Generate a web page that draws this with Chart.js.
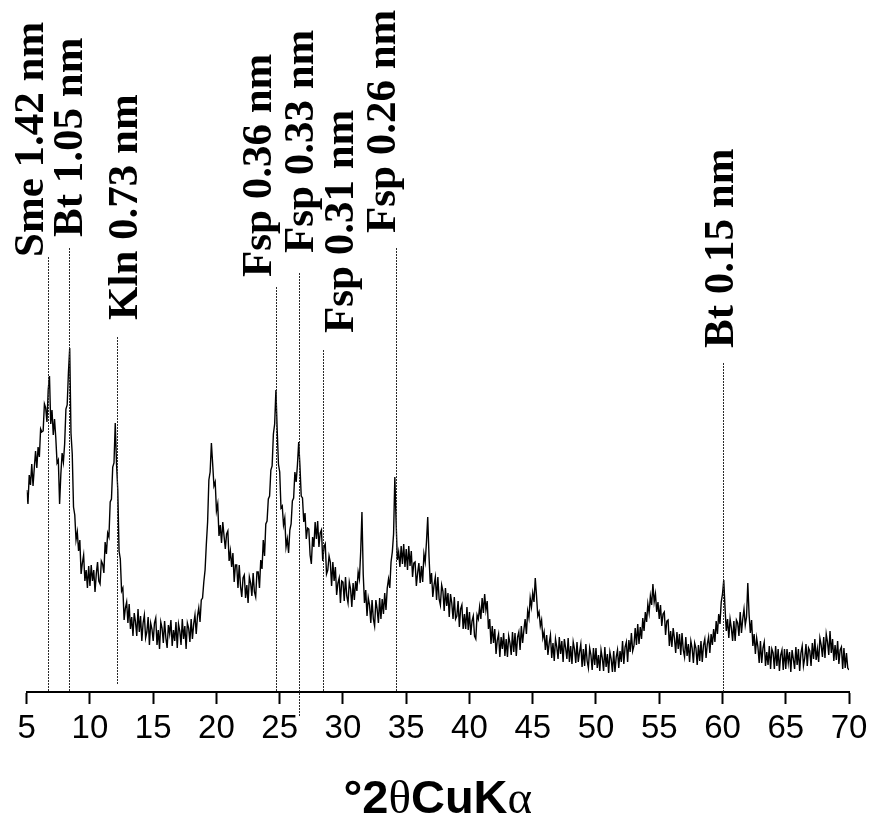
<!DOCTYPE html>
<html>
<head>
<meta charset="utf-8">
<title>XRD pattern</title>
<script src="https://cdn.jsdelivr.net/npm/chart.js@4.4.1/dist/chart.umd.min.js"></script>
<style>
  html, body { margin: 0; padding: 0; background: #fff; }
  #wrap { width: 876px; height: 826px; }
</style>
</head>
<body>
<div id="wrap"><canvas id="xrd" width="876" height="826"></canvas></div>
<script>
// Scan grid: readings every 0.1 °2θ starting at 5 °2θ
const scanStart = 5.0;
const scanStep = 0.1;

// Intensity (a.u.) in 5° blocks
const counts05 = [202,188,217,207,228,206,224,241,224,245, 235,263,260,261,288,284,270,302,316,268,
  282,257,273,254,229,232,188,218,239,230, 248,283,287,320,344,259,238,185,177,152,
  160,141,152,118,129,137,111,122,104,126];
const counts10 = [106,127,111,122,100,118,130,111,108,131, 128,119,150,138,159,155,190,193,225,229,
  269,228,202,141,133,101,104,72,84,90, 69,88,63,75,56,79,70,56,83,60,
  76,51,69,77,54,60,75,47,69,63];
const counts15 = [51,69,74,47,62,43,70,64,49,71, 54,44,67,58,72,46,62,51,70,44,
  68,61,47,73,53,66,43,69,64,50, 73,53,68,77,58,76,84,70,92,94,
  110,122,148,170,212,220,249,228,206,210];
const counts20 = [181,188,156,167,149,170,156,143,158,161, 131,141,125,139,110,127,127,104,127,106,
  95,114,117,94,107,89,115,109,96,119, 100,95,120,120,104,132,123,152,136,168,
  171,193,196,222,226,258,268,302,262,228];
const counts25 = [220,184,186,167,174,145,153,139,162,168, 191,194,220,210,227,250,226,196,194,170,
  179,153,164,163,137,128,155,145,170,153, 171,145,159,162,131,145,148,118,122,136,
  130,106,130,111,125,97,109,114,89,111];
const counts30 = [110,91,115,96,89,110,103,85,109,92, 111,101,120,113,140,180,118,89,102,76,
  94,87,69,92,73,66,92,83,69,94, 73,93,78,99,82,104,113,104,130,140,
  158,215,170,132,140,125,146,128,148,125];
const counts35 = [143,122,146,126,141,115,129,130,106,119, 129,109,126,110,138,130,150,175,136,108,
  119,95,107,115,92,115,93,87,107,101, 81,104,86,99,75,98,89,73,95,73,
  76,91,65,83,87,63,78,63,85,62];
const counts40 = [80,57,71,76,56,53,77,73,85,73, 94,79,98,82,91,63,73,48,66,49,
  63,38,52,58,35,55,43,59,36,53, 35,56,49,37,60,40,59,36,55,60,
  42,66,49,62,73,58,81,74,94,85];
const counts45 = [99,90,114,96,76,80,66,72,54,60, 42,57,37,49,57,34,49,31,53,45,
  33,55,38,51,30,53,44,33,54,30, 46,28,50,43,29,50,30,40,48,25,
  43,26,48,31,24,44,37,22,44,27];
const counts50 = [44,24,37,21,42,34,21,45,25,38, 19,40,33,20,41,20,35,42,24,41,
  30,51,28,45,50,30,52,40,59,41, 46,64,47,68,48,65,53,74,61,80,
  70,88,79,96,87,108,90,98,80,90];
const counts55 = [73,87,66,78,80,57,71,72,46,61, 45,64,54,39,60,43,58,37,59,42,
  35,55,36,48,30,51,44,29,49,44, 27,47,31,51,30,47,53,34,48,55,
  39,58,47,63,50,71,58,78,68,90];
const counts60 = [98,112,84,61,73,54,73,64,51,71, 51,72,69,56,80,59,73,83,67,75,
  109,78,59,72,46,58,38,54,45,29, 51,29,44,50,26,40,27,46,23,43,
  39,23,46,26,43,21,37,42,22,43];
const counts65 = [23,43,29,40,20,42,33,23,45,27, 43,21,39,46,26,34,48,26,44,41,
  26,49,33,53,32,43,30,54,47,35, 55,34,58,50,37,61,39,53,31,47,
  32,51,28,42,45,23,44,24,39,24, 22];

const tickValues = [5, 10, 15, 20, 25, 30, 35, 40, 45, 50, 55, 60, 65, 70];

// Reflections marked on the pattern
const peakLabels = ['Sme 1.42 nm', 'Bt 1.05 nm', 'Kln 0.73 nm', 'Fsp 0.36 nm',
  'Fsp 0.33 nm', 'Fsp 0.31 nm', 'Fsp 0.26 nm', 'Bt 0.15 nm'];
const peakPositions = [6.7, 8.35, 12.15, 24.7, 26.55, 28.45, 34.2, 60.05];

// Marker geometry in data units (°2θ, intensity)
const markerTop = [435, 444, 355, 405, 419, 342, 444, 329];
const markerBottom = [0, 0, 7, 0, -25, 0, 0, 0];
const labelAnchorX = [6.29, 9.37, 13.72, 24.30, 27.62, 30.78, 34.10, 60.82];
const labelAnchorY = [435, 455, 372, 415, 439, 359, 459, 344];

const intensity = [].concat(counts05, counts10, counts15, counts20, counts25, counts30,
  counts35, counts40, counts45, counts50, counts55, counts60, counts65);
const points = intensity.map((v, i) => ({
  x: Math.round((scanStart + i * scanStep) * 10) / 10,
  y: v
}));

const SANS = '"Liberation Sans", Arial, Helvetica, sans-serif';
const SERIF = '"Liberation Serif", "Times New Roman", Times, serif';

const peakMarkers = {
  id: 'peakMarkers',
  afterDatasetsDraw(chart) {
    const { ctx, scales: { x, y } } = chart;
    ctx.save();
    // dotted drop lines
    ctx.strokeStyle = '#2a2a2a';
    ctx.lineWidth = 1;
    ctx.setLineDash([2, 1]);
    peakPositions.forEach((p, i) => {
      const px = Math.round(x.getPixelForValue(p)) + 0.5;
      ctx.beginPath();
      ctx.moveTo(px, y.getPixelForValue(markerTop[i]));
      ctx.lineTo(px, y.getPixelForValue(markerBottom[i]));
      ctx.stroke();
    });
    ctx.setLineDash([]);

    // vertical labels
    ctx.fillStyle = '#000';
    ctx.font = 'bold 43px ' + SERIF;
    ctx.textAlign = 'left';
    ctx.textBaseline = 'alphabetic';
    peakLabels.forEach((t, i) => {
      ctx.save();
      ctx.translate(x.getPixelForValue(labelAnchorX[i]), y.getPixelForValue(labelAnchorY[i]));
      ctx.rotate(-Math.PI / 2);
      ctx.fillText(t, 0, 0);
      ctx.restore();
    });

    // axis title: °2θCuKα with Greek letters in serif
    const runs = [
      { t: '°2', f: 'bold 47px ' + SANS },
      { t: 'θ', f: '47px ' + SERIF },
      { t: 'CuK', f: 'bold 47px ' + SANS },
      { t: 'α', f: '47px ' + SERIF }
    ];
    let total = 0;
    runs.forEach(r => { ctx.font = r.f; r.w = ctx.measureText(r.t).width; total += r.w; });
    let cx = (x.left + x.right) / 2 - total / 2;
    const baseY = x.bottom + 59;
    runs.forEach(r => { ctx.font = r.f; ctx.fillText(r.t, cx, baseY); cx += r.w; });
    ctx.restore();
  }
};

new Chart(document.getElementById('xrd'), {
  type: 'line',
  data: {
    datasets: [{
      data: points,
      borderColor: '#000',
      borderWidth: 1.4,
      pointRadius: 0,
      tension: 0,
      fill: false
    }]
  },
  options: {
    responsive: false,
    animation: false,
    devicePixelRatio: 1,
    layout: { padding: { left: 26.7, right: 27, top: 0, bottom: 72.4 } },
    plugins: { legend: { display: false }, tooltip: { enabled: false } },
    scales: {
      x: {
        type: 'linear',
        min: 5,
        max: 70,
        afterBuildTicks: s => { s.ticks = tickValues.map(v => ({ value: v })); },
        grid: { display: true, drawOnChartArea: false, drawTicks: true, tickLength: 12, tickWidth: 2, tickColor: '#000' },
        border: { display: true, color: '#000', width: 2 },
        ticks: {
          color: '#000',
          padding: 5,
          autoSkip: false,
          maxRotation: 0,
          font: { family: SANS, size: 33, lineHeight: 1.2 }
        }
      },
      y: { type: 'linear', display: false, min: 0, max: 692 }
    }
  },
  plugins: [peakMarkers]
});
</script>
</body>
</html>
